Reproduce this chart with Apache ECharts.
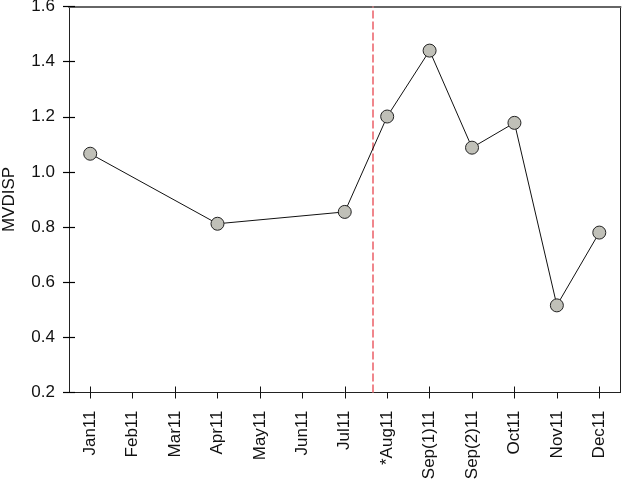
<!DOCTYPE html>
<html><head><meta charset="utf-8">
<script src="https://cdn.jsdelivr.net/npm/echarts@6/dist/echarts.min.js"></script>
<style>html,body{margin:0;padding:0;background:#fff}#c{width:622px;height:483px}</style>
</head><body><div id="c"></div>
<script>
var categories = ['Jan11','Feb11','Mar11','Apr11','May11','Jun11','Jul11','*Aug11','Sep(1)11','Sep(2)11','Oct11','Nov11','Dec11'];
var mvdisp = [1.066, null, null, 0.812, null, null, 0.855, 1.201, 1.440, 1.088, 1.178, 0.516, 0.780];
var yTicks = [0.2, 1.6, 0.2]; // min, max, interval
var markerPos = 6.65; // dashed line position (category index units)

var font = 'Liberation Sans, Arial, sans-serif';
var chart = echarts.init(document.getElementById('c'), null, {renderer: 'canvas'});
var catAxisBase = {
  type: 'category', data: categories, boundaryGap: true, position: 'bottom',
  axisLine: {show: true, onZero: false, lineStyle: {color: '#222', width: 1}},
  splitLine: {show: false}
};
chart.setOption({
  animation: false,
  grid: {left: 69, right: 1.5, top: 6.5, bottom: 90.5, containLabel: false, outerBoundsMode: 'none'},
  xAxis: [
    Object.assign({}, catAxisBase, {
      axisTick: {show: true, alignWithLabel: true, inside: false, length: 6, lineStyle: {color: '#111'}},
      axisLabel: {show: true, rotate: 90, margin: 18, fontSize: 17, fontFamily: font, color: '#111', interval: 0}
    }),
    Object.assign({}, catAxisBase, {
      axisLine: {show: false, onZero: false},
      axisTick: {show: true, alignWithLabel: true, inside: true, length: 6, lineStyle: {color: '#111'}},
      axisLabel: {show: false}
    }),
    {
      type: 'value', position: 'top', min: -0.5, max: 12.5,
      axisLine: {show: true, onZero: false, lineStyle: {color: '#666', width: 2}},
      axisTick: {show: false}, axisLabel: {show: false}, splitLine: {show: false}
    }
  ],
  yAxis: [
    {
      type: 'value', min: yTicks[0], max: yTicks[1], interval: yTicks[2], position: 'left',
      name: 'MVDISP', nameLocation: 'middle', nameGap: 51, nameRotate: 90,
      nameTextStyle: {fontSize: 17, fontFamily: font, color: '#111'},
      axisLine: {show: true, onZero: false, lineStyle: {color: '#222', width: 1}},
      axisTick: {show: true, inside: false, length: 6, lineStyle: {color: '#000', width: 1.2}},
      axisLabel: {fontSize: 17, fontFamily: font, color: '#111', margin: 14,
        formatter: function (v) { return v.toFixed(1); }},
      splitLine: {show: false}
    },
    {
      type: 'value', min: yTicks[0], max: yTicks[1], interval: yTicks[2], position: 'left',
      axisLine: {show: false, onZero: false},
      axisTick: {show: true, inside: true, length: 6, lineStyle: {color: '#000', width: 1.2}},
      axisLabel: {show: false}, splitLine: {show: false}
    },
    {
      type: 'value', min: yTicks[0], max: yTicks[1], position: 'right',
      axisLine: {show: true, onZero: false, lineStyle: {color: '#222', width: 1}},
      axisTick: {show: false}, axisLabel: {show: false}, splitLine: {show: false}
    }
  ],
  series: [
    {
      type: 'line', xAxisIndex: 2, yAxisIndex: 0, data: [], silent: true,
      markLine: {
        symbol: 'none', silent: true, label: {show: false},
        lineStyle: {color: '#f0868c', type: [8, 3], width: 2},
        data: [{xAxis: markerPos}]
      }
    },
    {
      type: 'line', xAxisIndex: 0, yAxisIndex: 0, data: mvdisp, connectNulls: true,
      symbol: 'circle', symbolSize: 13, z: 5,
      lineStyle: {color: '#111', width: 1},
      itemStyle: {color: '#c0c0b8', borderColor: '#222', borderWidth: 1}
    }
  ]
});
</script></body></html>
